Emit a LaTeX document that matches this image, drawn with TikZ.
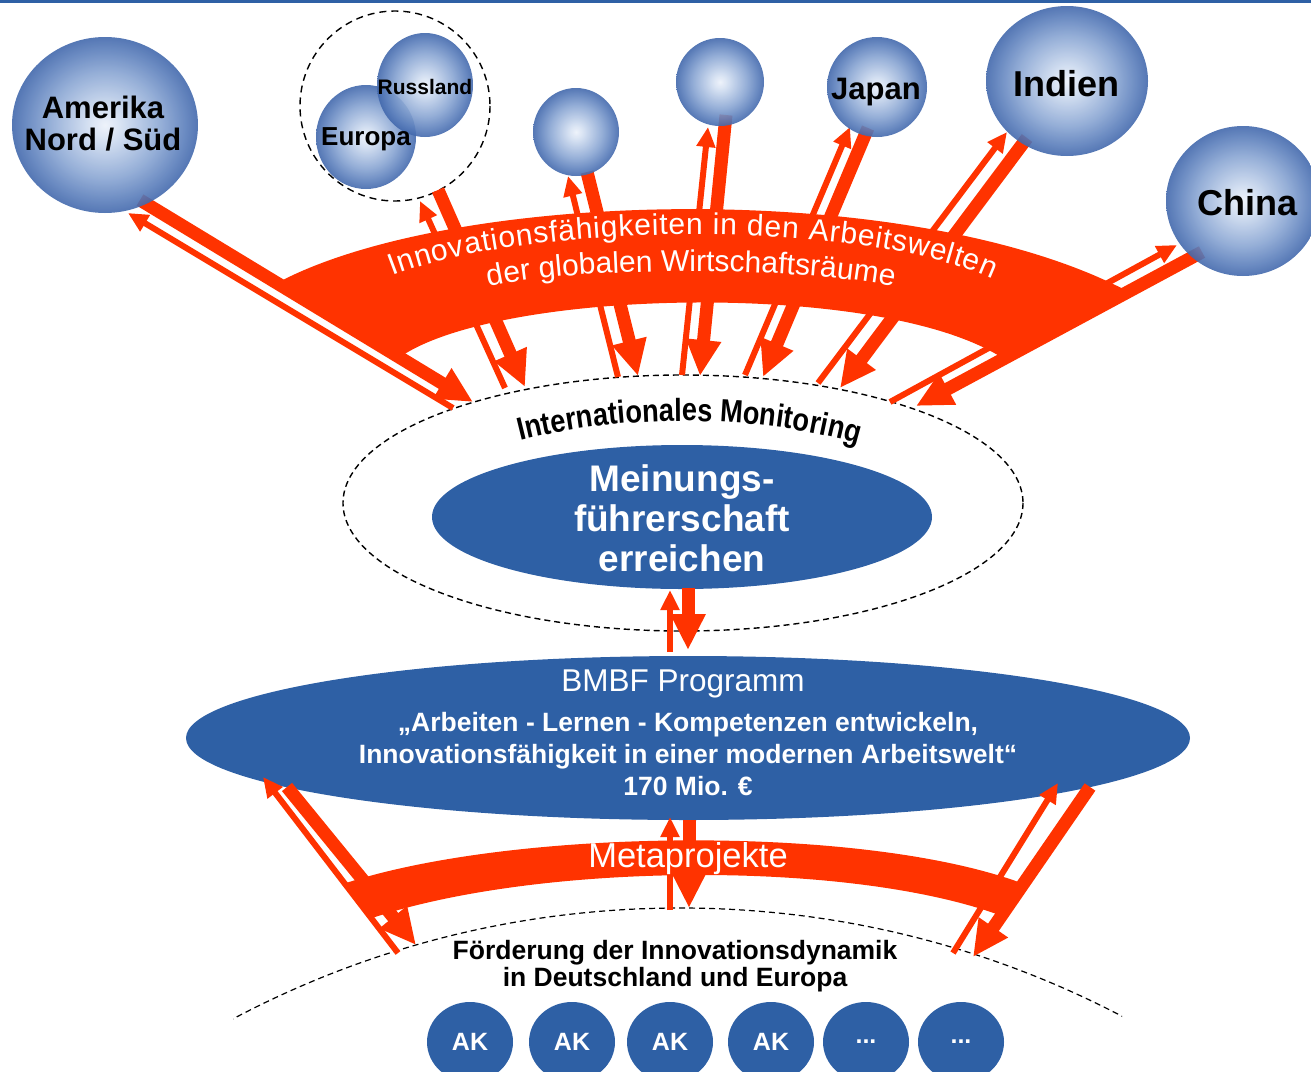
\documentclass[tikz,border=0pt]{standalone}
\usepackage{fontspec}
\setmainfont{Liberation Sans}
\newfontfamily\narrowsans[FakeStretch=0.85]{Liberation Sans}
\usetikzlibrary{arrows.meta,shapes.geometric,decorations.text}
\definecolor{arrred}{RGB}{255,51,0}
\definecolor{bmbfblue}{RGB}{46,96,165}
\definecolor{ballin}{RGB}{236,241,250}
\definecolor{balllight}{RGB}{212,224,242}
\definecolor{ballmid}{RGB}{138,166,211}
\definecolor{balldark}{RGB}{94,129,189}
\definecolor{ballout}{RGB}{66,104,172}
\pgfdeclareradialshading{ballshade}{\pgfpoint{0bp}{0bp}}{color(0bp)=(ballin); color(4bp)=(balllight); color(15bp)=(ballmid); color(21bp)=(balldark); color(25bp)=(ballout); color(50bp)=(ballout)}
\tikzset{
      regionball/.style={ellipse, shade, shading=ballshade, fill opacity=0.9, inner sep=0pt},   % blue spheres
      balltext/.style={text=black, align=center, inner sep=0pt},
      bluefill/.style={ellipse, fill=bmbfblue, inner sep=0pt},
      aknode/.style={bluefill, minimum width=86pt, minimum height=80pt, text=white, font=\bfseries\fontsize{25}{27}\selectfont},
      thickarrow/.style={draw=arrred, line width=13pt, -{Triangle[length=36pt,width=33pt]}},
      thinarrow/.style={draw=arrred, line width=6pt, -{Triangle[length=20pt,width=18pt]}},
      dashline/.style={dash pattern=on 6pt off 4pt, line width=1.4pt}
}

\begin{document}
\begin{tikzpicture}[x=1pt,y=-1pt]
                  \useasboundingbox (0,0) rectangle (1311,1071);
                  \clip (0,0) rectangle (1311,1071);
                  \fill[bmbfblue] (0,0) rectangle (1311,3);

                  % dashed outlines
                  \draw[dashline] (683,503) ellipse [x radius=340, y radius=128];
                  \draw[dashline, dash pattern=on 7pt off 5pt] (395,106) ellipse [x radius=95, y radius=95];
                  \begin{scope}
                        \clip (233,900) rectangle (1122,1025);
                        \draw[dashline, line width=1.2pt] (680,1863) circle (955);
                  \end{scope}

                  % programme ellipses
                  \node[bluefill, minimum width=500pt, minimum height=144pt] (meinung) at (682,517) {};
                  \node[bluefill, minimum width=1004pt, minimum height=164pt] (bmbf) at (688,738) {};

                  % end points of the arrow pairs
                  \coordinate (amS) at (140,200); \coordinate (amE) at (473,402);
                  \coordinate (amT) at (453,408); \coordinate (amH) at (128,213);
                  \coordinate (euS) at (438,190); \coordinate (euE) at (525,387);
                  \coordinate (euT) at (505,388); \coordinate (euH) at (420,201);
                  \coordinate (bcS) at (587,172); \coordinate (bcE) at (638,376);
                  \coordinate (bcT) at (618,377); \coordinate (bcH) at (568,176);
                  \coordinate (bdS) at (726,115); \coordinate (bdE) at (700,376);
                  \coordinate (bdT) at (682,375); \coordinate (bdH) at (708,127);
                  \coordinate (jpS) at (868,128); \coordinate (jpE) at (763,377);
                  \coordinate (jpT) at (745,375); \coordinate (jpH) at (850,127);
                  \coordinate (inS) at (1027,138); \coordinate (inE) at (840,388);
                  \coordinate (inT) at (818,383); \coordinate (inH) at (1007,132);
                  \coordinate (cnS) at (1202,252); \coordinate (cnE) at (916,406);
                  \coordinate (cnT) at (890,402); \coordinate (cnH) at (1177,245);
                  \coordinate (muS) at (688,588); \coordinate (muE) at (688,650);
                  \coordinate (muT) at (670,652); \coordinate (muH) at (670,590);
                  \coordinate (mlS) at (689,820); \coordinate (mlE) at (689,908);
                  \coordinate (mlT) at (670,910); \coordinate (mlH) at (670,817);
                  \coordinate (lfS) at (287,787); \coordinate (lfE) at (416,945);
                  \coordinate (lfT) at (398,953); \coordinate (lfH) at (263,777);
                  \coordinate (rtS) at (1090,787); \coordinate (rtE) at (973,957);
                  \coordinate (rtT) at (953,953); \coordinate (rtH) at (1058,783);

                  \draw[thickarrow] (amS) -- (amE);  \draw[thinarrow] (amT) -- (amH);
                  \draw[thickarrow] (euS) -- (euE);  \draw[thinarrow] (euT) -- (euH);
                  \draw[thickarrow] (bcS) -- (bcE);  \draw[thinarrow] (bcT) -- (bcH);
                  \draw[thickarrow] (bdS) -- (bdE);  \draw[thinarrow] (bdT) -- (bdH);
                  \draw[thickarrow] (jpS) -- (jpE);  \draw[thinarrow] (jpT) -- (jpH);
                  \draw[thickarrow] (inS) -- (inE);  \draw[thinarrow] (inT) -- (inH);
                  \draw[thickarrow] (cnS) -- (cnE);  \draw[thinarrow] (cnT) -- (cnH);
                  \draw[thickarrow] (muS) -- (muE);  \draw[thinarrow] (muT) -- (muH);
                  \draw[thickarrow] (mlS) -- (mlE);  \draw[thinarrow] (mlT) -- (mlH);
                  \draw[thickarrow] (lfS) -- (lfE);  \draw[thinarrow] (lfT) -- (lfH);
                  \draw[thickarrow] (rtS) -- (rtE);  \draw[thinarrow] (rtT) -- (rtH);

                  % the two bands
                  \fill[arrred] (277,283) .. controls (455,188) and (915,178) .. (1129,292) -- (1004,359)
                        .. controls (885,280) and (500,288) .. (400,357) -- cycle;
                  \path[decorate, decoration={text along path, text color=white, text align={fit to path},
                        text={|\fontsize{30}{31}\selectfont|Innovationsfähigkeiten in den Arbeitswelten}}]
                        (392,276) .. controls (530,222) and (860,218) .. (992,279);
                  \path[decorate, decoration={text along path, text color=white, text align=center,
                        text={|\fontsize{30}{31}\selectfont|der globalen Wirtschaftsräume}}]
                        (475,290) .. controls (565,265) and (815,265) .. (907,290);
                  \fill[arrred] (346,883) .. controls (515,828) and (865,824) .. (1024,884) -- (1002,916)
                        .. controls (852,860) and (540,862) .. (372,918) -- cycle;
                  \node[font=\fontsize{34.5}{37}\selectfont, text=white] (meta) at (688,859) {Metaprojekte};

                  % regions
                  \node[regionball, minimum width=186pt, minimum height=176pt] (amerika) at (105,125) {};
                  \node[regionball, minimum width=100pt, minimum height=104pt] (europa) at (366,137) {};
                  \node[regionball, minimum width=96pt, minimum height=104pt] (russland) at (425,85) {};
                  \node[regionball, minimum width=86pt, minimum height=88pt] (ballc) at (576,132) {};
                  \node[regionball, minimum width=88pt, minimum height=88pt] (balld) at (720,82) {};
                  \node[regionball, minimum width=100pt, minimum height=100pt] (japan) at (877,87) {};
                  \node[regionball, minimum width=162pt, minimum height=150pt] (indien) at (1067,81) {};
                  \node[regionball, minimum width=154pt, minimum height=150pt] (china) at (1243,201) {};
                  \node[balltext, font=\bfseries\fontsize{31}{32}\selectfont] (amerikatxt) at (103,124) {Amerika\\Nord / Süd};
                  \node[balltext, font=\bfseries\fontsize{26}{28}\selectfont] (europatxt) at (366,139) {Europa};
                  \node[balltext, font=\bfseries\fontsize{21}{23}\selectfont] (russlandtxt) at (425,87) {Russland};
                  \node[balltext, font=\bfseries\fontsize{31}{33}\selectfont] (japantxt) at (876,92) {Japan};
                  \node[balltext, font=\bfseries\fontsize{36}{38}\selectfont] (indientxt) at (1066,84) {Indien};
                  \node[balltext, font=\bfseries\fontsize{36}{38}\selectfont] (chinatxt) at (1247,203) {China};

                  % texts in the middle
                  \path[decorate, decoration={text along path, text align=center,
                        text={|\narrowsans\bfseries\fontsize{32}{34}\selectfont|Internationales Monitoring}}]
                        (500,446) .. controls (615,412) and (765,412) .. (878,450);
                  \node[font=\bfseries\fontsize{37}{40}\selectfont, text=white, align=center] (meinungtxt) at (682,518) {Meinungs-\\führerschaft\\erreichen};
                  \node[font=\fontsize{31.5}{34}\selectfont, text=white] (bmbftitle) at (683,684) {BMBF Programm};
                  \node[font=\bfseries\fontsize{26.5}{32}\selectfont, text=white, align=center] (bmbftext) at (688,754)
                        {„Arbeiten - Lernen - Kompetenzen entwickeln,\\Innovationsfähigkeit in einer modernen Arbeitswelt“\\170 Mio. €};
                  \node[font=\bfseries\fontsize{26.5}{27}\selectfont, align=center] (foerder) at (675,966)
                        {Förderung der Innovationsdynamik\\in Deutschland und Europa};

                  % working groups
                  \node[aknode] (ak1) at (470,1042) {AK};
                  \node[aknode] (ak2) at (572,1042) {AK};
                  \node[aknode] (ak3) at (670,1042) {AK};
                  \node[aknode] (ak4) at (771,1042) {AK};
                  \node[aknode] (ak5) at (866,1042) {...};
                  \node[aknode] (ak6) at (961,1042) {...};
\end{tikzpicture}
\end{document}
